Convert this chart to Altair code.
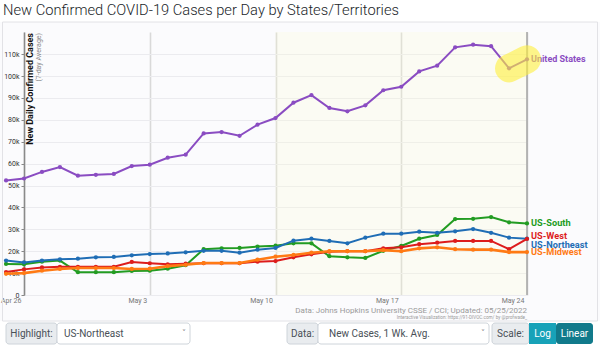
import altair as alt
import pandas as pd

# ---------------- data ----------------
dates = pd.date_range("2022-04-25", "2022-05-24").strftime("%Y-%m-%d").tolist()

us = [52.3, 53.2, 56.2, 58.4, 54.5, 54.9, 55.3, 58.9, 59.5, 62.7, 64.1, 73.8, 74.4, 72.7, 77.8,
      80.8, 87.8, 91.3, 85.4, 83.9, 86.6, 93.5, 95.1, 102.1, 104.7, 113.1, 114.3, 113.6, 103.5, 107.6]
south = [14.2, 14.0, 15.2, 15.7, 10.4, 10.4, 10.4, 11.0, 11.1, 12.0, 13.6, 20.9, 21.3, 21.5, 22.1,
         22.5, 23.6, 23.6, 17.7, 17.2, 16.9, 20.2, 22.4, 25.7, 27.4, 34.7, 34.8, 35.6, 33.2, 32.7]
northeast = [15.7, 14.9, 15.7, 16.3, 16.6, 17.2, 17.4, 18.1, 18.7, 19.0, 19.5, 20.2, 20.2, 19.3, 20.7,
             21.5, 24.8, 25.7, 24.7, 23.6, 26.2, 28.0, 28.0, 28.9, 28.4, 29.1, 30.1, 28.4, 26.2, 25.7]
west = [10.5, 11.7, 12.6, 12.9, 12.9, 12.9, 12.9, 15.1, 14.5, 14.0, 14.3, 14.5, 14.5, 14.5, 15.2,
        15.5, 17.2, 18.6, 19.8, 20.0, 20.0, 21.3, 21.8, 23.2, 23.9, 24.7, 24.7, 24.7, 20.9, 25.6]
midwest = [9.7, 10.0, 11.1, 11.9, 12.3, 12.3, 12.3, 11.9, 12.0, 13.2, 13.8, 14.6, 14.6, 14.6, 16.1,
           17.5, 18.3, 19.3, 20.0, 20.0, 20.0, 20.5, 20.0, 21.3, 21.8, 20.9, 20.7, 20.7, 19.6, 19.6]

series_names = ["United States", "US-South", "US-Northeast", "US-West", "US-Midwest"]
series_values = [us, south, northeast, west, midwest]
series_colors = ["#8a4cc2", "#229c22", "#1f6db5", "#dd1c1c", "#ff7a14"]
label_dy = [0, 0, 6.5, -2.5, 0]
line_widths = [2, 2, 2, 2, 2.6]

x_tick_dates = ["2022-04-26", "2022-05-03", "2022-05-10", "2022-05-17", "2022-05-24"]
x_tick_labels = ["Apr 26", "May 3", "May 10", "May 17", "May 24"]
y_ticks = [0, 10000, 20000, 30000, 40000, 50000, 60000, 70000, 80000, 90000, 100000, 110000]
shade_dates = ["2022-05-10", "2022-05-24"]

ref_date = pd.Timestamp(x_tick_dates[0])


def day_of(d):
    return (pd.Timestamp(d) - ref_date).days


rows = []
for name, vals in zip(series_names, series_values):
    for d, v in zip(dates, vals):
        rows.append({"series": name, "date": d, "day": day_of(d), "value": v * 1000})
df = pd.DataFrame(rows)

tick_days = [day_of(d) for d in x_tick_dates]
label_expr = "''"
for td, tl in zip(reversed(tick_days), reversed(x_tick_labels)):
    label_expr = f"datum.value == {td} ? '{tl}' : ({label_expr})"

# ---------------- layout ----------------
OX, OY = 24, 32
W, H = 503, 263
YMAX = 120100
FONT = "Roboto"

xscale = alt.Scale(domain=[tick_days[0], tick_days[-1]], nice=False, zero=False)
yscale = alt.Scale(domain=[0, YMAX], nice=False)

X = alt.X("day:Q", scale=xscale, axis=alt.Axis(
    values=tick_days, labelExpr=label_expr, grid=True, gridColor="#d9d9d9", gridWidth=1.6,
    ticks=False, domain=False, labelAlign="right", labelOffset=-3, labelFontSize=7,
    labelColor="#777777", labelPadding=1.5, title=None, labelFont=FONT, labelBaseline="top"))
Y = alt.Y("value:Q", scale=yscale, axis=alt.Axis(
    values=y_ticks, labelExpr="datum.value == 0 ? '0' : (datum.value / 1000) + 'k'",
    grid=True, gridColor="#ebebef", gridWidth=1, tickSize=3, tickColor="#888888",
    domainColor="#8a8a8a", domainWidth=1.5, labelFontSize=7, labelColor="#333333",
    labelPadding=2, title=None, labelFont=FONT))

one = alt.Data(values=[{}])


def box(x1, y1, x2, y2, fill, stroke=None, radius=0, fill_opacity=1):
    kw = dict(fill=fill, cornerRadius=radius, fillOpacity=fill_opacity)
    if stroke:
        kw["stroke"] = stroke
        kw["strokeWidth"] = 1
    return alt.Chart(one).mark_rect(**kw).encode(
        x=alt.value(x1 - OX), x2=alt.value(x2 - OX), y=alt.value(y1 - OY), y2=alt.value(y2 - OY))


def txt(x, y, text, size, color, align="left", weight="normal", font=FONT, angle=None, baseline="middle"):
    kw = dict(text=text, fontSize=size, color=color, align=align, fontWeight=weight,
              font=font, baseline=baseline)
    if angle is not None:
        kw["angle"] = angle
    return alt.Chart(one).mark_text(**kw).encode(x=alt.value(x - OX), y=alt.value(y - OY))


layers = []
# white page outside the chart frame (frame interior = chart background)
layers.append(box(0, 0, 600, 22, "#ffffff"))
layers.append(box(0, 321, 600, 346, "#ffffff"))
layers.append(box(2.5, 22, 597.5, 321, "#ffffff", "#e2e2e6", fill_opacity=0))
# recent period shading (translucent so grid stays visible)
shade_df = pd.DataFrame({"day": [day_of(shade_dates[0])], "day_end": [day_of(shade_dates[1])]})
layers.append(alt.Chart(shade_df).mark_rect(fill="#ffffcc", opacity=0.2).encode(
    x=X, x2="day_end:Q", y=alt.value(0), y2=alt.value(H)))
# axes carrier
layers.append(alt.Chart(df).mark_point(opacity=0).encode(x=X, y=Y))
# last date rule
last_df = pd.DataFrame({"day": [tick_days[-1]]})
layers.append(alt.Chart(last_df).mark_rule(color="#a9a9a9", strokeWidth=1.6).encode(x=X))

# series
for name, color, dy, lw in zip(series_names, series_colors, label_dy, line_widths):
    sub = alt.Chart(df).transform_filter(alt.datum.series == name)
    layers.append(sub.mark_line(color=color, strokeWidth=lw,
                                point=alt.OverlayMarkDef(color=color, filled=True, size=18, opacity=1))
                  .encode(x=X, y=Y))
for name, color, dy in zip(series_names, series_colors, label_dy):
    last = alt.Chart(df).transform_filter(
        (alt.datum.series == name) & (alt.datum.date == dates[-1]))
    layers.append(last.mark_text(color=color, align="left", baseline="middle", dx=4, dy=dy,
                                 fontSize=9.2 if name != "United States" else 9,
                                 fontWeight="bold", font=FONT)
                  .encode(x=X, y=Y, text="series:N"))

# yellow highlight on latest United States points
hl = alt.Chart(df).transform_filter(
    (alt.datum.series == series_names[0]) & (alt.datum.date >= dates[-2]))
layers.append(hl.mark_line(color="#fff03c", opacity=0.6, strokeWidth=28, strokeCap="round")
              .encode(x=X, y=Y))

# y-axis title (inside plot)
layers.append(txt(29.5, 33, "New Daily Confirmed Cases", 9, "#111111", align="right",
                  weight="bold", angle=270))
layers.append(txt(38.5, 33, "(7-day Average)", 7, "#8a8a8a", align="right", angle=270))

# title
layers.append(txt(3, 11, "New Confirmed COVID-19 Cases per Day by States/Territories", 14.7,
                  "#212529", weight=300))

# source notes
layers.append(txt(527, 311, "Data: Johns Hopkins University CSSE / CCI; Updated: 05/25/2022",
                  8, "#9a9a9a", align="right"))
layers.append(txt(527, 318, "Interactive Visualization: https://91-DIVOC.com/ by @profwade_",
                  4.6, "#9a9a9a", align="right"))

# controls row
layers.append(box(6, 323, 57, 344, "#e9ecef", "#ced4da", 3))
layers.append(box(57, 323, 190, 344, "#ffffff", "#ced4da", 3))
layers.append(txt(31.5, 333.5, "Highlight:", 10, "#495057", align="center"))
layers.append(txt(64, 333.5, "US-Northeast", 10, "#495057"))
layers.append(txt(184, 333.5, "˅", 8, "#888888", align="center", font="DejaVu Sans"))

layers.append(box(287, 323, 318, 344, "#e9ecef", "#ced4da", 3))
layers.append(box(318, 323, 489, 344, "#ffffff", "#ced4da", 3))
layers.append(txt(302.5, 333.5, "Data:", 10, "#495057", align="center"))
layers.append(txt(329, 333.5, "New Cases, 1 Wk. Avg.", 10, "#495057"))
layers.append(txt(483, 333.5, "˅", 8, "#888888", align="center", font="DejaVu Sans"))

layers.append(box(492, 323, 529, 344, "#e9ecef", "#ced4da", 3))
layers.append(txt(510.5, 333.5, "Scale:", 10, "#495057", align="center"))
layers.append(box(529, 323, 556, 344, "#17a2b8", None, 0))
layers.append(box(556, 323, 593, 344, "#117a8b", None, 3))
layers.append(txt(542.5, 333.5, "Log", 10, "#ffffff", align="center"))
layers.append(txt(574.5, 333.5, "Linear", 10, "#ffffff", align="center"))

chart = alt.layer(*layers).properties(
    width=W, height=H,
    autosize=alt.AutoSizeParams(type="none"),
    padding={"left": OX, "top": OY, "right": 600 - OX - W, "bottom": 346 - OY - H},
    background="#fbfbfd",
).configure_view(stroke=None)

chart.save("out.html", embed_options={"renderer": "svg", "actions": False})
